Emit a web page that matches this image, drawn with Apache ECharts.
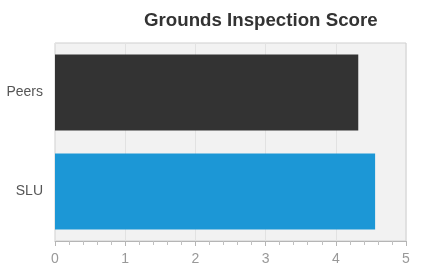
<!DOCTYPE html>
<html>
<head>
<meta charset="utf-8">
<script src="https://cdn.jsdelivr.net/npm/echarts@6/dist/echarts.min.js"></script>
<style>
  html, body { margin: 0; padding: 0; background: #fff; }
  #chart { width: 426px; height: 271px; }
</style>
</head>
<body>
<div id="chart"></div>
<script>
// categories bottom to top
const categories = ['SLU', 'Peers'];
const scores = [4.56, 4.32];
const barColors = ['#1c97d6', '#333333'];
const xTicks = [0, 1, 2, 3, 4, 5];

const chart = echarts.init(document.getElementById('chart'));

var option = {
    backgroundColor: '#fff',
    title: {
        text: 'Grounds Inspection Score',
        left: 139,
        top: 6,
        textStyle: {
            fontFamily: 'Liberation Sans, Arial',
            fontSize: 18.7,
            fontWeight: 'bold',
            color: '#333'
        }
    },
    grid: {
        left: 55,
        right: 20,
        top: 43,
        bottom: 30,
        show: true,
        backgroundColor: '#f2f2f2',
        borderColor: '#cfcfcf',
        borderWidth: 1
    },
    xAxis: {
        type: 'value',
        min: xTicks[0],
        max: xTicks[xTicks.length - 1],
        interval: 1,
        axisLine: { show: true, lineStyle: { color: '#b5b5b5' } },
        axisTick: { show: true, length: 5, inside: false, lineStyle: { color: '#b5b5b5' } },
        minorTick: { show: true, splitNumber: 5, length: 4, lineStyle: { color: '#c0c0c0' } },
        splitLine: { show: true, lineStyle: { color: '#e2e2e2' } },
        axisLabel: {
            fontFamily: 'Liberation Sans, Arial',
            fontSize: 14,
            color: '#999',
            margin: 11
        }
    },
    yAxis: {
        type: 'category',
        data: categories,
        axisLine: { show: false },
        axisTick: { show: false },
        axisLabel: {
            fontFamily: 'Liberation Sans, Arial',
            fontSize: 14,
            color: '#555',
            margin: 12
        }
    },
    series: [{
        type: 'bar',
        data: scores.map((v, i) => ({ value: v, itemStyle: { color: barColors[i] } })),
        barCategoryGap: '23%',
        silent: true
    }]
};
chart.setOption(option);
</script>
</body>
</html>
